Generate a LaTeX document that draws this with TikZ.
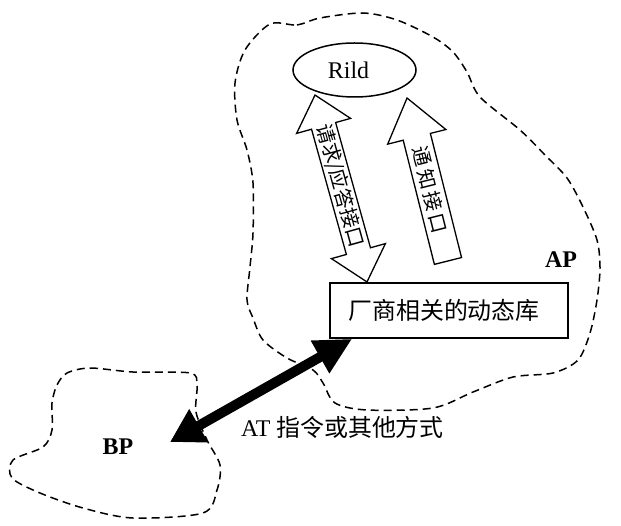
\documentclass[tikz,border=0pt]{standalone}
\usepackage{fontspec}
\setmainfont{Liberation Serif}
\newfontfamily\cjk{Noto Sans CJK SC}
\usetikzlibrary{arrows.meta,shapes.geometric,calc}
\begin{document}
\begin{tikzpicture}[x=1bp,y=-1bp,
  blob/.style={draw=black, line width=1.5bp, dash pattern=on 8bp off 5bp},
  fatarrow/.style={draw=black, fill=white, line width=1.3bp, line join=miter},
  bigtxt/.style={font=\fontsize{24}{28}\selectfont, inner sep=0pt},
  boldtxt/.style={font=\fontsize{24}{28}\selectfont\bfseries, inner sep=0pt},
  arrtxt/.style={font=\fontsize{20}{24}\selectfont, inner sep=0pt}]
\useasboundingbox (0,0) rectangle (621,526);

% AP region
\draw[blob] plot[smooth cycle, tension=0.5] coordinates {
 (270,24) (297,25) (320,18) (363,13) (397,20) (433,37) (453,52) (467,72)
 (480,97) (520,130) (545,155) (567,178) (583,207) (597,240) (600,268)
 (597,300) (590,333) (578,360) (553,373) (513,377) (473,392) (433,408)
 (367,410) (335,403) (323,383) (313,370) (287,358) (263,340) (253,318)
 (247,300) (250,267) (253,233) (253,183) (247,150) (237,120) (235,83) (245,50)};

% BP region
\draw[blob] plot[smooth cycle, tension=0.5] coordinates {
 (67,373) (90,368) (133,372) (190,373) (197,385) (196,412) (207,440)
 (220,465) (217,490) (203,513) (133,518) (83,508) (40,493) (12,478)
 (13,460) (43,447) (52,430) (52,403) (57,385)};

% Rild
\node[ellipse, draw, line width=1.5bp, minimum width=123bp, minimum height=54bp,
      inner sep=0pt, bigtxt] (rild) at (354.5,70) {Rild\hspace*{12bp}};

% vendor library box
\node[draw, line width=1.6bp, minimum width=238bp, minimum height=55bp,
      inner sep=0pt, bigtxt] (box) at (449,310.5) {\cjk 厂商相关的动态库\hspace*{10bp}};

% labels
\node[boldtxt] (ap) at (561,260) {AP};
\node[boldtxt] (bp) at (118,447) {BP};
\node[bigtxt] (at) at (342.5,427) {AT {\cjk 指令或其他方式}};

% request / response double arrow
\begin{scope}[shift={(341,188.5)}, rotate=-74.46]
  \draw[fatarrow] (-97,0) -- (-65,28) -- (-65,12.5) -- (65,12.5) -- (65,28)
    -- (97,0) -- (65,-28) -- (65,-12.5) -- (-65,-12.5) -- (-65,-28) -- cycle;
  \node[arrtxt, rotate=-74.46] (req) at (-3,0) {\cjk 请求/应答接口};
\end{scope}

% notification arrow
\begin{scope}[shift={(427.5,179.5)}, rotate=-75.9]
  \draw[fatarrow] (-84,0) -- (-44,30) -- (-44,14) -- (84,14) -- (84,-14)
    -- (-44,-14) -- (-44,-30) -- cycle;
  \node[arrtxt, rotate=-75.9] (ntf) at (11,0) {\cjk 通\hspace{3bp}知\hspace{3bp}接\hspace{3bp}口};
\end{scope}

% AT link
\coordinate (bpend) at (170,442);
\coordinate (boxend) at ($(box.south west)+(23,0)$);
\draw[line width=10bp, {Triangle[length=33bp,width=36bp]}-{Triangle[length=37bp,width=35bp]}]
  (bpend) -- (boxend);
\end{tikzpicture}
\end{document}
